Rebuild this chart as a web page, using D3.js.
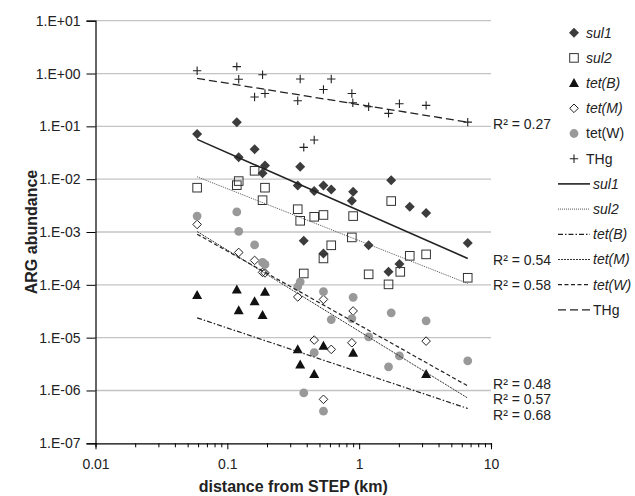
<!DOCTYPE html>
<html><head><meta charset="utf-8">
<script src="https://cdn.jsdelivr.net/npm/d3@7"></script>
<style>
html,body{margin:0;padding:0;background:#fff;}
text{font-family:"Liberation Sans",Arial,Helvetica,sans-serif;}
</style></head>
<body><svg id="chart" width="635" height="496"></svg>
<script>
// ---------- data (distance km, abundance) ----------
const sul1 = [[0.059,0.0715],[0.118,0.12],[0.122,0.026],[0.161,0.037],[0.193,0.0182],[0.185,0.0129],[0.357,0.0172],[0.342,0.0076],[0.456,0.006],[0.38,6.8e-4],[0.536,0.0076],[0.614,0.0064],[0.9,0.0058],[0.88,0.0039],[1.75,0.0095],[2.42,0.003],[3.22,0.0023],[1.18,5.6e-4],[6.66,6.2e-4],[0.536,3.9e-4],[1.67,1.76e-4],[2.02,2.47e-4]];
const sul2 = [[0.059,0.0069],[0.122,0.0092],[0.118,0.0077],[0.161,0.0144],[0.193,0.0069],[0.185,0.004],[0.342,0.0027],[0.357,0.00163],[0.456,0.00194],[0.536,0.0021],[0.9,0.002],[1.75,0.00385],[0.88,7.9e-4],[0.614,5.6e-4],[0.536,3.16e-4],[0.38,1.64e-4],[1.18,1.58e-4],[1.67,1.02e-4],[2.05,1.76e-4],[2.42,3.54e-4],[3.22,3.77e-4],[6.66,1.36e-4]];
const tetB = [[0.059,6.4e-5],[0.118,8.2e-5],[0.122,3.3e-5],[0.161,4.9e-5],[0.193,7.4e-5],[0.185,2.67e-5],[0.342,6e-6],[0.357,3.1e-6],[0.456,2.04e-6],[0.536,7e-6],[0.9,5.15e-6],[3.22,2.04e-6]];
const tetM = [[0.059,1.39e-3],[0.122,4.1e-4],[0.161,2.9e-4],[0.185,1.72e-4],[0.193,1.68e-4],[0.342,5.9e-5],[0.456,9e-6],[0.536,5.3e-5],[0.9,3.2e-5],[0.614,6e-6],[0.88,8e-6],[3.22,8.6e-6],[0.536,6.8e-7]];
const tetW = [[0.059,0.002],[0.118,0.0024],[0.122,0.00103],[0.161,5.7e-4],[0.185,2.65e-4],[0.193,2.43e-4],[0.357,1.14e-4],[0.342,9.2e-5],[0.456,5.2e-6],[0.38,9e-7],[0.536,4.06e-7],[0.536,7.4e-5],[0.9,5.8e-5],[0.88,2.3e-5],[0.614,2.2e-5],[1.75,2.95e-5],[3.22,2.08e-5],[1.18,1.03e-5],[2.02,4.5e-6],[1.67,2.8e-6],[6.66,3.64e-6]];
const thg  = [[0.059,1.13],[0.118,1.35],[0.122,0.78],[0.185,0.95],[0.161,0.36],[0.193,0.42],[0.357,0.79],[0.342,0.305],[0.38,0.040],[0.456,0.055],[0.536,0.50],[0.614,0.79],[0.88,0.42],[0.895,0.28],[1.18,0.235],[1.67,0.176],[2.02,0.268],[3.22,0.25],[6.66,0.12]];

// power-law trend lines (start / end values)
const trendSul1 = [[0.059,0.0567],[6.66,3.16e-4]];
const trendSul2 = [[0.059,0.0111],[6.66,1.06e-4]];
const trendTetB = [[0.059,2.37e-5],[6.66,4.56e-7]];
const trendTetM = [[0.059,1.02e-3],[6.66,7.2e-7]];
const trendTetW = [[0.059,9.1e-4],[6.66,1.22e-6]];
const trendThg  = [[0.059,0.81],[6.66,0.12]];

const r2Values = {thg:"0.27", sul1:"0.54", sul2:"0.58", tetW:"0.48", tetM:"0.57", tetB:"0.68"};

const xTickValues = [0.01,0.1,1,10];
const xTickLabels = ["0.01","0.1","1","10"];
const yTickValues = [1e1,1e0,1e-1,1e-2,1e-3,1e-4,1e-5,1e-6,1e-7];
const yTickLabels = ["1.E+01","1.E+00","1.E-01","1.E-02","1.E-03","1.E-04","1.E-05","1.E-06","1.E-07"];

const xTitle = "distance from STEP (km)";
const yTitle = "ARG abundance";

// ---------- layout ----------
const svg = d3.select("#chart");
const L = 95.5, R = 491, T = 20.7, B = 443.3;
const x = d3.scaleLog().domain([0.01,10]).range([L,R]);
const y = d3.scaleLog().domain([1e-7,1e1]).range([B,T]);

// gridlines
svg.append("g").selectAll("line").data(yTickValues.filter(v=>v>1e-7)).join("line")
  .attr("x1",L).attr("x2",R).attr("y1",d=>y(d)).attr("y2",d=>y(d))
  .attr("stroke","#c4c4c4").attr("stroke-width",1.3);

// y axis
const yAxis = svg.append("g").attr("transform",`translate(${L},0)`)
  .call(d3.axisLeft(y).tickValues(yTickValues).tickSize(9).tickPadding(6)
    .tickFormat((d,i)=>yTickLabels[i]));
yAxis.select(".domain").attr("stroke","#000").attr("stroke-width",1.2);
yAxis.selectAll(".tick line").attr("stroke","#000");
yAxis.selectAll(".tick text").attr("font-size",14).attr("fill","#222")
  .attr("font-family","'Liberation Sans',Arial,sans-serif");

// x axis with minor ticks
const allX = x.ticks();
const xAxis = svg.append("g").attr("transform",`translate(0,${B})`)
  .call(d3.axisBottom(x).tickValues(allX).tickSize(4).tickPadding(8)
    .tickFormat(d=>{const i=xTickValues.findIndex(v=>Math.abs(v-d)/v<1e-6);return i>=0?xTickLabels[i]:"";}));
xAxis.select(".domain").attr("stroke","#000").attr("stroke-width",1.2);
xAxis.selectAll(".tick line").attr("stroke","#000")
  .attr("y2",d=>xTickValues.some(v=>Math.abs(v-d)/v<1e-6)?6:4);
xAxis.selectAll(".tick text").attr("font-size",14).attr("fill","#222")
  .attr("font-family","'Liberation Sans',Arial,sans-serif").attr("dy","0.95em");

// axis titles
svg.append("text").attr("x",(L+R)/2).attr("y",492).attr("text-anchor","middle")
  .attr("font-size",16).attr("font-weight","bold").attr("fill","#222").text(xTitle);
svg.append("text").attr("transform",`translate(37,${(T+B)/2}) rotate(-90)`)
  .attr("text-anchor","middle").attr("font-size",16).attr("font-weight","bold").attr("fill","#222").text(yTitle);

// ---------- markers ----------
const sym = {
  diamond: d3.symbol().type(d3.symbolDiamond2 || d3.symbolDiamond).size(60),
};
function marker(g, kind){
  if(kind==="sul1") g.append("path").attr("d","M0,-5L5,0L0,5L-5,0Z").attr("fill","#3c3c3c");
  else if(kind==="sul2") g.append("rect").attr("x",-4.3).attr("y",-4.3).attr("width",8.6).attr("height",8.6)
      .attr("fill","none").attr("stroke","#333").attr("stroke-width",1);
  else if(kind==="tetB") g.append("path").attr("d","M0,-5L5,4L-5,4Z").attr("fill","#111");
  else if(kind==="tetM") g.append("path").attr("d","M0,-4.3L4.3,0L0,4.3L-4.3,0Z").attr("fill","none").attr("stroke","#222").attr("stroke-width",1);
  else if(kind==="tetW") g.append("circle").attr("r",4.4).attr("fill","#999");
  else if(kind==="thg") g.append("path").attr("d","M-4.2,0H4.2M0,-4.2V4.2").attr("stroke","#222").attr("stroke-width",1.1).attr("fill","none");
}
const series = [
  {key:"sul1", data:sul1, label:"sul1", italic:true},
  {key:"sul2", data:sul2, label:"sul2", italic:true},
  {key:"tetB", data:tetB, label:"tet(B)", italic:true},
  {key:"tetM", data:tetM, label:"tet(M)", italic:true},
  {key:"tetW", data:tetW, label:"tet(W)", italic:false},
  {key:"thg",  data:thg,  label:"THg", italic:false},
];
series.forEach(s=>{
  const g = svg.append("g");
  g.selectAll("g").data(s.data).join("g")
    .attr("transform",d=>`translate(${x(d[0])},${y(d[1])})`)
    .each(function(){ marker(d3.select(this), s.key); });
});

// ---------- trend lines ----------
const trends = [
  {key:"sul1", data:trendSul1, label:"sul1", italic:true, stroke:"#222", w:1.6, dash:null},
  {key:"sul2", data:trendSul2, label:"sul2", italic:true, stroke:"#555", w:1, dash:"1,1"},
  {key:"tetB", data:trendTetB, label:"tet(B)", italic:true, stroke:"#222", w:1.2, dash:"5,2,1.5,2"},
  {key:"tetM", data:trendTetM, label:"tet(M)", italic:true, stroke:"#333", w:1, dash:"2,1"},
  {key:"tetW", data:trendTetW, label:"tet(W)", italic:true, stroke:"#222", w:1.2, dash:"4,2.5"},
  {key:"thg",  data:trendThg,  label:"THg", italic:false, stroke:"#222", w:1.3, dash:"8,4"},
];
const line = d3.line().x(d=>x(d[0])).y(d=>y(d[1]));
trends.forEach(t=>{
  svg.append("path").attr("d",line(t.data)).attr("fill","none")
    .attr("stroke",t.stroke).attr("stroke-width",t.w).attr("stroke-dasharray",t.dash);
});

// ---------- R² labels ----------
let labs = trends.map(t=>({key:t.key, y:y(t.data[1][1])+2}));
labs.sort((a,b)=>a.y-b.y);
const gap = 15.7;
let groups = [];
labs.forEach(l=>{
  const g = groups[groups.length-1];
  if(g && l.y - g[g.length-1].y < gap) g.push(l); else groups.push([l]);
});
groups.forEach(g=>{
  const m = d3.mean(g,d=>d.y);
  g.forEach((l,i)=>{ l.y = m + (i-(g.length-1)/2)*gap; });
});
labs.forEach(l=>{
  const t = svg.append("text").attr("x",R+2).attr("y",l.y).attr("dy","0.35em")
    .attr("font-size",14).attr("fill","#222");
  t.append("tspan").text("R");
  t.append("tspan").text("² = "+r2Values[l.key]);
});

// ---------- legend ----------
const legY0 = 32.7, legStep = 25.2;
series.forEach((s,i)=>{
  const g = svg.append("g").attr("transform",`translate(574,${legY0+i*legStep})`);
  marker(g, s.key);
  g.append("text").attr("x",12).attr("dy","0.35em").attr("font-size",14).attr("fill","#222")
    .attr("font-style",s.italic?"italic":"normal").text(s.label);
});
trends.forEach((t,i)=>{
  const yy = legY0+(i+6)*legStep;
  svg.append("line").attr("x1",558).attr("x2",590).attr("y1",yy).attr("y2",yy)
    .attr("stroke",t.stroke).attr("stroke-width",t.w).attr("stroke-dasharray",t.dash);
  svg.append("text").attr("x",593).attr("y",yy).attr("dy","0.35em").attr("font-size",14).attr("fill","#222")
    .attr("font-style",t.italic?"italic":"normal").text(t.label);
});
</script></body></html>
